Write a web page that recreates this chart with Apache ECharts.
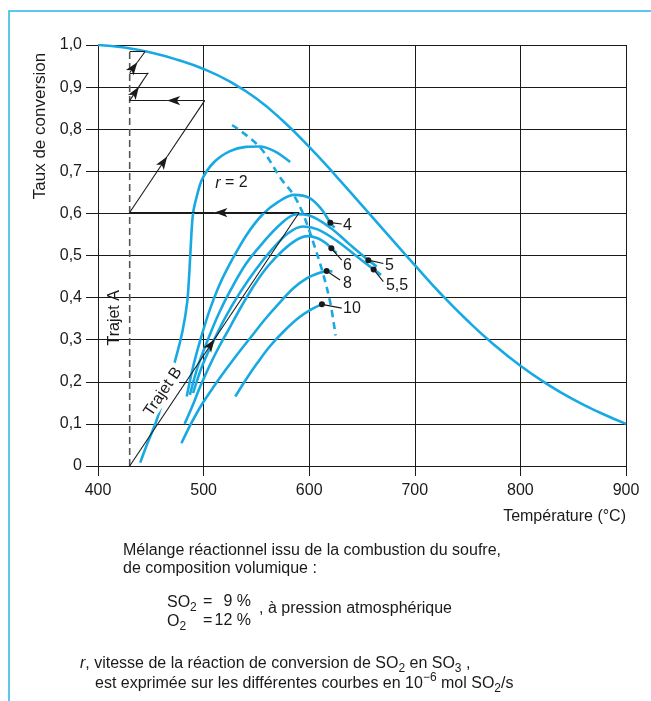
<!DOCTYPE html>
<html>
<head>
<meta charset="utf-8">
<script src="https://cdn.jsdelivr.net/npm/echarts@6/dist/echarts.min.js"></script>
<style>
  html, body { margin: 0; padding: 0; background: #fff; }
  #chart { width: 651px; height: 701px; }
</style>
</head>
<body>
<div id="chart"></div>
<script>
// courbe d'équilibre (taux de conversion max)
const equilibre = [[400, 1.0], [425, 0.994], [450, 0.982], [475, 0.965], [500, 0.943], [525, 0.913],
  [550, 0.873], [575, 0.82], [600, 0.758], [625, 0.69], [650, 0.619], [675, 0.548], [700, 0.477],
  [725, 0.408], [750, 0.345], [775, 0.288], [800, 0.238], [825, 0.195], [850, 0.158], [875, 0.127], [900, 0.10]];
// lieu des maxima (tirets)
const lieuMax = [[527, 0.81], [553, 0.758], [574, 0.68], [585, 0.645], [594, 0.60], [604, 0.53],
  [613, 0.458], [620, 0.387], [625, 0.31]];
// courbes à vitesse constante r
const r2 = [[440, 0.008], [447, 0.055], [455, 0.105], [464, 0.175], [473, 0.25], [480, 0.32], [484.5, 0.39],
  [486.5, 0.46], [488, 0.53], [490, 0.60], [493.5, 0.64], [499, 0.683], [510, 0.722], [525, 0.748],
  [540, 0.758], [553, 0.759], [567, 0.748], [582, 0.722]];
const r4 = [[484, 0.165], [490, 0.235], [497, 0.30], [505, 0.365], [515, 0.43], [527, 0.49], [541, 0.55],
  [556, 0.598], [571, 0.628], [586, 0.644], [600, 0.637], [611, 0.612], [620, 0.578], [624, 0.566]];
const r5 = [[487, 0.169], [495, 0.24], [504, 0.30], [514, 0.36], [526, 0.42], [540, 0.48], [556, 0.53],
  [573, 0.575], [588, 0.598], [600, 0.595], [620, 0.566], [638, 0.527], [656, 0.489], [664, 0.474]];
const r55 = [[490, 0.173], [499, 0.24], [510, 0.30], [521, 0.355], [534, 0.41], [549, 0.465], [565, 0.515],
  [580, 0.553], [594, 0.569], [608, 0.562], [626, 0.535], [644, 0.5], [661, 0.467], [668, 0.454]];
const r6 = [[482, 0.10], [489, 0.14], [497, 0.19], [506, 0.24], [515, 0.285], [525, 0.33], [536, 0.38],
  [548, 0.43], [561, 0.475], [575, 0.512], [588, 0.537], [598, 0.546], [608, 0.541], [616, 0.529],
  [621, 0.517], [626, 0.506]];
const r8 = [[479, 0.054], [488, 0.10], [498, 0.145], [510, 0.19], [522, 0.232], [534, 0.272], [546, 0.31],
  [558, 0.348], [571, 0.385], [585, 0.422], [598, 0.446], [610, 0.459], [617, 0.463], [622, 0.462]];
const r10 = [[530, 0.165], [540, 0.205], [551, 0.245], [563, 0.285], [576, 0.32], [590, 0.352], [602, 0.372],
  [612, 0.384], [615, 0.385]];

// trajets
const trajetA = [[430, 0], [430, 0.984]];
const trajetB = [[430, 0], [590.5, 0.602], [430, 0.602]];
const etagesA = [[430, 0.602], [501, 0.868], [430, 0.868], [447.5, 0.934], [430, 0.934], [444.5, 0.984], [430, 0.984]];

// repères des valeurs de r
const rNoms = ['4', '5', '5,5', '6', '8', '10'];
const rPoints = [[620, 0.578], [656, 0.489], [661, 0.467], [621, 0.517], [616.5, 0.463], [612, 0.384]];
const rRenvois = [[630.8, 0.575], [670.2, 0.481], [670.2, 0.438], [630.8, 0.489], [629.2, 0.442], [630.8, 0.375]];
const rTextes = [[632, 0.572], [671.8, 0.476], [672.7, 0.428], [632, 0.475], [632, 0.434], [632, 0.375]];

const xTicks = [400, 500, 600, 700, 800, 900];

const BLUE = '#19a9e2';
const INK = '#1a1a1a';
const FONT = '"Liberation Sans", Arial, Helvetica, sans-serif';

function courbe (name, data, dashed, lissage) {
  return {
    name: name,
    type: 'line',
    data: data,
    smooth: lissage || 0.35,
    showSymbol: false,
    silent: true,
    z: 2,
    lineStyle: { color: BLUE, width: 2.6, type: dashed ? [7, 5] : 'solid' }
  };
}

// segments, avec une flèche au milieu si demandé
const avecFleche = [];
const sansFleche = [];
function ajouteTrajet (pts, fleches) {
  for (let i = 0; i < pts.length - 1; i++) {
    const a = pts[i];
    const b = pts[i + 1];
    if (fleches[i]) {
      const m = [(a[0] + b[0]) / 2, (a[1] + b[1]) / 2];
      avecFleche.push({ coords: [a, m] });
      sansFleche.push({ coords: [m, b] });
    } else {
      sansFleche.push({ coords: [a, b] });
    }
  }
}
ajouteTrajet(trajetB, [1, 1]);
ajouteTrajet(etagesA, [1, 1, 1, 0, 1, 0]);

const renvois = rPoints.map((p, i) => ({ coords: [p, rRenvois[i]] }));

const etiquettes = rNoms.map((n, i) => ({
  name: n,
  value: rTextes[i],
  label: { position: 'right', distance: 0 }
}));
etiquettes.push({ name: '{i|r} = 2', value: [526.4, 0.672], label: { position: 'inside' } });
etiquettes.push({ name: 'Trajet A', value: [415.6, 0.352], label: { position: 'inside', rotate: 90 } });
etiquettes.push({
  name: 'Trajet B',
  value: [461.6, 0.176],
  label: { position: 'inside', rotate: 56, backgroundColor: '#fff', padding: [0, 3] }
});

const rich = {
  n: { fontSize: 16, fontFamily: FONT, color: INK },
  i: { fontSize: 16, fontFamily: FONT, color: INK, fontStyle: 'italic' },
  s: { fontSize: 12, fontFamily: FONT, color: INK, padding: [10, 0, 0, 0] },
  p: { fontSize: 12, fontFamily: FONT, color: INK, padding: [0, 0, 12, 0] }
};

function texte (x, y, str, extra, rot) {
  return {
    type: 'text',
    x: x,
    y: y,
    rotation: rot || 0,
    silent: true,
    style: Object.assign({
      text: str,
      rich: rich,
      font: '16px ' + FONT,
      fill: INK,
      verticalAlign: 'middle'
    }, extra || {})
  };
}

const chart = echarts.init(document.getElementById('chart'));

chart.setOption({
  animation: false,
  backgroundColor: '#fff',
  grid: { left: 98, right: 25, top: 45, bottom: 235 },
  xAxis: {
    type: 'value',
    min: 400,
    max: 900,
    interval: 100,
    axisLine: { onZero: false, lineStyle: { color: INK, width: 1 } },
    axisTick: { length: 10, lineStyle: { color: INK } },
    axisLabel: {
      margin: 17,
      color: INK,
      fontSize: 16,
      fontFamily: FONT,
      customValues: xTicks
    },
    splitLine: { lineStyle: { color: INK, width: 1 } }
  },
  yAxis: {
    type: 'value',
    min: 0,
    max: 1,
    interval: 0.1,
    axisLine: { show: true, lineStyle: { color: INK, width: 1 } },
    axisTick: { show: true, length: 12, lineStyle: { color: INK } },
    axisLabel: {
      margin: 16,
      color: INK,
      fontSize: 16,
      fontFamily: FONT,
      formatter: v => (v === 0 ? '0' : v.toFixed(1).replace('.', ','))
    },
    splitLine: { lineStyle: { color: INK, width: 1 } }
  },
  series: [
    courbe('équilibre', equilibre, false, 0.5),
    courbe('lieu des maxima', lieuMax, true),
    courbe('r=2', r2),
    courbe('r=4', r4),
    courbe('r=5', r5),
    courbe('r=5,5', r55),
    courbe('r=6', r6),
    courbe('r=8', r8),
    courbe('r=10', r10),
    {
      name: 'trajet A',
      type: 'line',
      data: trajetA,
      showSymbol: false,
      silent: true,
      z: 3,
      lineStyle: { color: '#555', width: 1.6, type: [7, 4] }
    },
    {
      type: 'lines',
      coordinateSystem: 'cartesian2d',
      silent: true,
      z: 4,
      symbol: ['none', 'arrow'],
      symbolSize: [1, [7, 13]],
      lineStyle: { color: INK, width: 1.1, opacity: 1 },
      data: avecFleche
    },
    {
      type: 'lines',
      coordinateSystem: 'cartesian2d',
      silent: true,
      z: 4,
      symbol: 'none',
      lineStyle: { color: INK, width: 1.1, opacity: 1 },
      data: sansFleche.concat(renvois)
    },
    {
      type: 'scatter',
      silent: true,
      z: 5,
      symbol: 'circle',
      symbolSize: 6,
      itemStyle: { color: INK, opacity: 1 },
      data: rPoints
    },
    {
      type: 'scatter',
      silent: true,
      z: 6,
      symbolSize: 0,
      itemStyle: { opacity: 1 },
      label: {
        show: true,
        formatter: p => p.name,
        color: INK,
        fontSize: 16,
        fontFamily: FONT,
        rich: rich
      },
      data: etiquettes
    }
  ],
  graphic: [
    {
      type: 'rect',
      silent: true,
      shape: { x: 9, y: 11, width: 720, height: 760 },
      style: { fill: 'none', stroke: '#2bb4e8', lineWidth: 1.5 }
    },
    texte(40, 126, 'Taux de conversion', { align: 'center', font: '17px ' + FONT }, Math.PI / 2),
    texte(626, 517, 'Température (°C)', { align: 'right' }),
    texte(123, 551, 'Mélange réactionnel issu de la combustion du soufre,'),
    texte(123, 569, 'de composition volumique :'),
    texte(167, 603, '{n|SO}{s|2}'),
    texte(203, 602, '='),
    texte(251, 602, '9 %', { align: 'right' }),
    texte(167, 622, '{n|O}{s|2}'),
    texte(203, 621, '='),
    texte(251, 621, '12 %', { align: 'right' }),
    texte(259, 609, ', à pression atmosphérique'),
    texte(80, 664, '{i|r}{n|, vitesse de la réaction de conversion de SO}{s|2}{n| en SO}{s|3}{n| ,}'),
    texte(95, 684, '{n|est exprimée sur les différentes courbes en 10}{p|−6}{n| mol SO}{s|2}{n|/s}')
  ]
});
</script>
</body>
</html>
